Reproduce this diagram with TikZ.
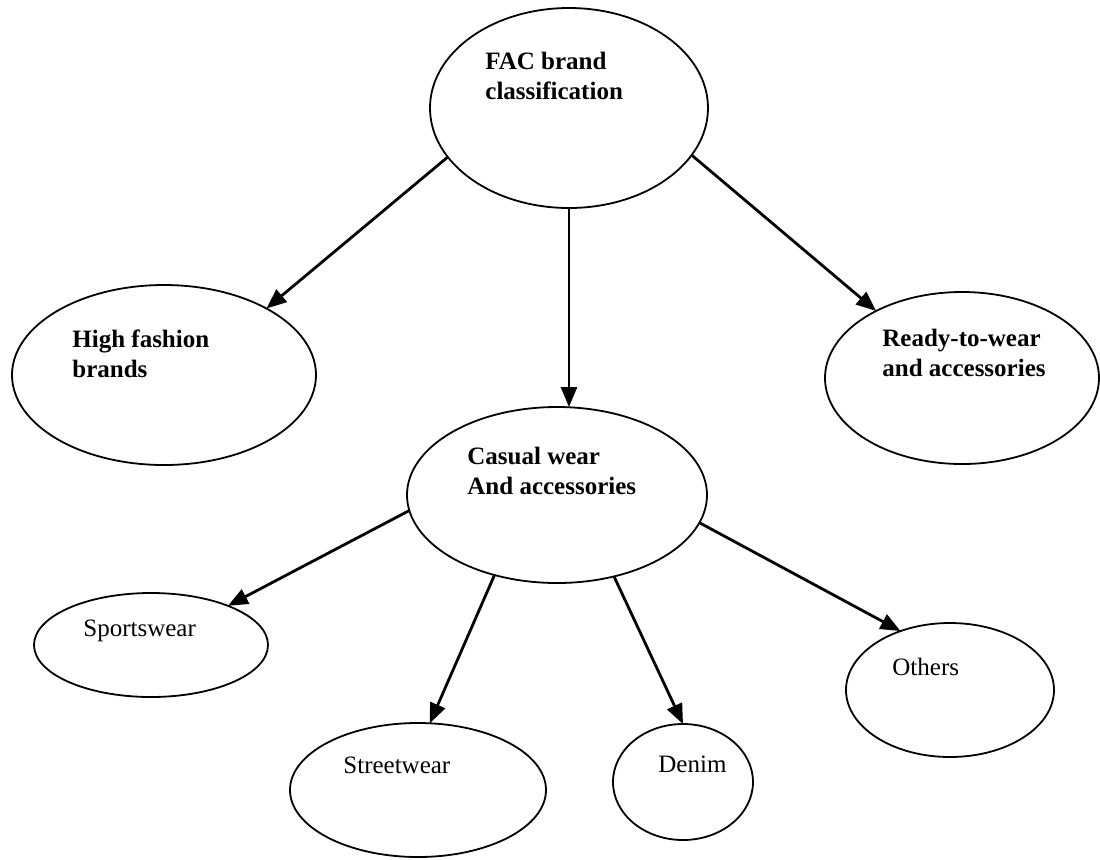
\documentclass[tikz,border=0pt]{standalone}
\usepackage{fontspec}
\setmainfont{Liberation Serif}
\usetikzlibrary{shapes.geometric,arrows.meta}

\begin{document}
\begin{tikzpicture}[x=0.5pt, y=-0.5pt,
		bolla/.style={ellipse, draw, line width=0.9pt, inner sep=0pt, outer sep=0pt},
		titolo/.style={anchor=north west, inner sep=0pt, align=left, font=\fontsize{12.5}{15}\selectfont\bfseries},
		voce/.style={anchor=base west, inner sep=0pt, font=\fontsize{12.5}{15}\selectfont},
		freccia/.style={-{Triangle[length=10pt, width=8pt]}, line width=1.4pt}]
		% Riquadro
		\useasboundingbox (0,0) rectangle (1100,859);
		
		% Ellissi
		\node[bolla, minimum width=139pt, minimum height=100pt] (fac) at (569,108) {};
		\node[bolla, minimum width=152pt, minimum height=90pt] (high) at (164,375) {};
		\node[bolla, minimum width=137pt, minimum height=86pt] (ready) at (962,378) {};
		\node[bolla, minimum width=150pt, minimum height=88pt] (casual) at (557,495) {};
		\node[bolla, minimum width=117pt, minimum height=52pt] (sport) at (151,645) {};
		\node[bolla, minimum width=128pt, minimum height=67pt] (street) at (418,790) {};
		\node[bolla, minimum width=70pt, minimum height=58pt] (denim) at (683,782) {};
		\node[bolla, minimum width=104pt, minimum height=67pt] (others) at (950,690) {};
		
		% Testi
		\node[titolo] (facT) at (485,52) {FAC brand\\classification};
		\node[titolo] (highT) at (72,329) {High fashion\\brands};
		\node[titolo] (readyT) at (882,329) {Ready-to-wear\\and accessories};
		\node[titolo] (casualT) at (467,447) {Casual wear\\And accessories};
		\node[voce] (sportT) at (83,636) {Sportswear};
		\node[voce] (streetT) at (343,773) {Streetwear};
		\node[voce] (denimT) at (658,772) {Denim};
		\node[voce] (othersT) at (892,675) {Others};
		
		% Frecce
		\draw[freccia] (fac.202) -- (high.33);
		\draw[freccia] (fac.south) -- (fac.south |- casual.north);
		\draw[freccia] (fac.339) -- (ready.142);
		\draw[freccia] (casual.186) -- (sport.27);
		\draw[freccia] (casual.232) -- (street.80);
		\draw[freccia] (casual.305) -- (denim.90);
		\draw[freccia] (casual.349) -- (others.130);
	\end{tikzpicture}
\end{document}
